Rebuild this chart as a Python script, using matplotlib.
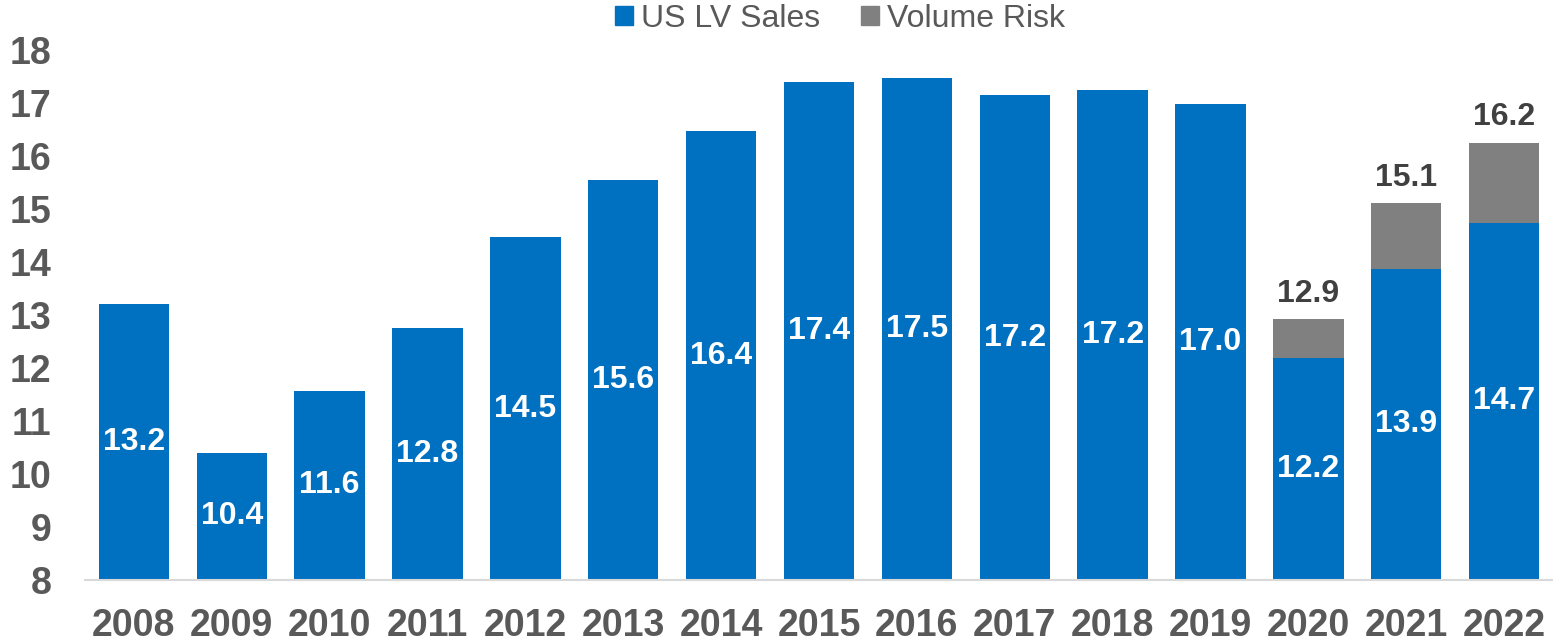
import matplotlib
matplotlib.use("Agg")
import matplotlib.pyplot as plt
from matplotlib.patches import Patch

plt.rcParams['font.family'] = ['Liberation Sans', 'DejaVu Sans']

years = ['2008', '2009', '2010', '2011', '2012', '2013', '2014', '2015',
         '2016', '2017', '2018', '2019', '2020', '2021', '2022']
sales = [13.21, 10.40, 11.57, 12.75, 14.47, 15.55, 16.47, 17.40, 17.47, 17.15, 17.25, 16.98, 12.19, 13.87, 14.74]
risk_total = [None] * 12 + [12.92, 15.11, 16.25]
sales_labels = ['13.2', '10.4', '11.6', '12.8', '14.5', '15.6', '16.4', '17.4',
                '17.5', '17.2', '17.2', '17.0', '12.2', '13.9', '14.7']
total_labels = [None] * 12 + ['12.9', '15.1', '16.2']

BLUE = '#0070C0'
GREY = '#808080'
TICK = '#595959'
LAB = '#404040'
ymin, ymax = 8, 18

fig = plt.figure(figsize=(15.53, 6.43), dpi=100)
ax = fig.add_axes([85/1553, 63/643, 1 - 85/1553, 530/643])

x = list(range(len(years)))
w = 0.72
ax.bar(x, [s - ymin for s in sales], bottom=ymin, width=w, color=BLUE, zorder=2)
for i, t in enumerate(risk_total):
    if t is not None:
        ax.bar(i, t - sales[i], bottom=sales[i], width=w, color=GREY, zorder=2)
        ax.text(i, t + 0.2, total_labels[i], ha='center', va='bottom', fontsize=23,
                fontweight='bold', color=LAB)
for i, s in enumerate(sales):
    ax.text(i, (ymin + s) / 2, sales_labels[i], ha='center', va='center',
            fontsize=23, fontweight='bold', color='white', zorder=3)

ax.set_xlim(-0.5, len(years) - 0.5)
ax.set_ylim(ymin, ymax)
ax.set_yticks(range(8, 19))
ax.set_xticks(x)
ax.set_xticklabels(years)
for side in ['left', 'right', 'top']:
    ax.spines[side].set_visible(False)
ax.spines['bottom'].set_color('#D9D9D9')
ax.spines['bottom'].set_linewidth(1.5)
ax.tick_params(axis='y', length=0, pad=24, labelsize=27, labelcolor=TICK)
ax.tick_params(axis='x', length=0, pad=20, labelsize=27, labelcolor=TICK)
for lab in ax.get_xticklabels() + ax.get_yticklabels():
    lab.set_fontweight('bold')

handles = [Patch(color=BLUE, label='US LV Sales'), Patch(color=GREY, label='Volume Risk')]
fig.legend(handles=handles, loc='center', bbox_to_anchor=(840/1553, 1 - 19/643), ncol=2,
           frameon=False, fontsize=23, handlelength=0.55, handleheight=0.55,
           handletextpad=0.25, columnspacing=1.3, labelcolor=TICK)

fig.savefig('out.png', dpi=100)
